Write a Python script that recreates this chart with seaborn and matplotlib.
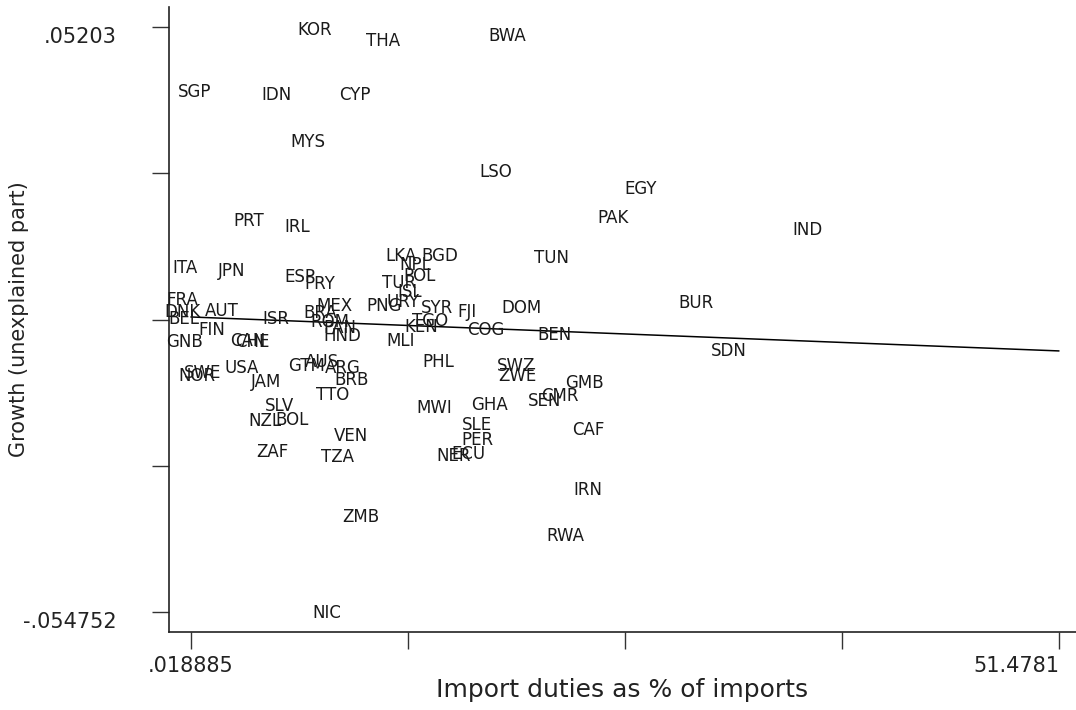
import matplotlib
matplotlib.use('Agg')
import matplotlib.pyplot as plt
import seaborn as sns
import pandas as pd
import numpy as np

sns.set_theme(style='white')
plt.rcParams['font.family'] = ['DejaVu Sans']

# country codes and values
countries = [
    'KOR', 'THA', 'BWA', 'SGP', 'IDN', 'CYP', 'MYS', 'LSO', 'EGY', 'PAK',
    'IND', 'PRT', 'IRL', 'LKA', 'BGD', 'TUN', 'NPL', 'ITA', 'JPN', 'ESP',
    'PRY', 'TUR', 'POL', 'ISL', 'URY', 'PNG', 'SYR', 'FJI', 'DOM', 'BUR',
    'FRA', 'DNK', 'AUT', 'BEL', 'ISR', 'MEX', 'BRA', 'ROM', 'PAN', 'HND',
    'KEN', 'TGO', 'COG', 'BEN', 'MLI', 'GNB', 'FIN', 'CHE', 'CAN', 'SDN',
    'PHL', 'SWZ', 'ZWE', 'GMB', 'SEN', 'CMR', 'AUS', 'GTM', 'ARG', 'BRB',
    'TTO', 'USA', 'NOR', 'SWE', 'JAM', 'SLV', 'NZL', 'BOL', 'VEN', 'ZAF',
    'TZA', 'MWI', 'GHA', 'SLE', 'PER', 'NER', 'ECU', 'CAF', 'IRN', 'ZMB',
    'RWA', 'NIC',
]
import_duties = [
    7.37, 11.40, 18.75, 0.26, 5.12, 9.74, 6.95, 18.10, 26.70, 25.04,
    36.60, 3.46, 6.30, 12.47, 14.78, 21.42, 13.30, -0.34, 2.45, 6.48,
    7.67, 12.35, 13.59, 13.00, 12.59, 11.46, 14.60, 16.38, 19.64, 29.96,
    -0.51, -0.45, 1.86, -0.40, 5.06, 8.50, 7.67, 8.26, 8.85, 8.97,
    13.65, 14.19, 17.51, 21.60, 12.47, -0.34, 1.26, 3.64, 3.40, 31.91,
    14.66, 19.29, 19.40, 23.32, 21.01, 21.89, 7.79, 6.90, 9.03, 9.56,
    8.44, 3.04, 0.37, 0.73, 4.46, 5.30, 4.41, 6.01, 9.50, 4.82,
    8.73, 14.42, 17.74, 16.97, 17.03, 15.61, 16.50, 23.55, 23.55, 10.10,
    22.19, 8.08,
]
growth_resid = [
    0.0515, 0.0495, 0.0504, 0.0402, 0.0396, 0.0396, 0.0310, 0.0256, 0.0225, 0.0172,
    0.0150, 0.0166, 0.0155, 0.0102, 0.0102, 0.0099, 0.0086, 0.0080, 0.0075, 0.0064,
    0.0051, 0.0053, 0.0066, 0.0037, 0.0018, 0.0011, 0.0007, 0.0000, 0.0007, 0.0017,
    0.0022, 0.0000, 0.0002, -0.0013, -0.0013, 0.0011, -0.0002, -0.0018, -0.0029, -0.0044,
    -0.0027, -0.0016, -0.0033, -0.0042, -0.0053, -0.0055, -0.0033, -0.0055, -0.0053, -0.0071,
    -0.0091, -0.0099, -0.0117, -0.0130, -0.0162, -0.0153, -0.0091, -0.0099, -0.0102, -0.0124,
    -0.0151, -0.0102, -0.0117, -0.0111, -0.0128, -0.0172, -0.0199, -0.0197, -0.0226, -0.0256,
    -0.0265, -0.0175, -0.0170, -0.0206, -0.0234, -0.0263, -0.0259, -0.0215, -0.0325, -0.0374,
    -0.0409, -0.0549,
]

# fitted line, end points
fit_x = [0.018885, 51.4781]
fit_y = [-0.0009, -0.0071]

x_min, x_max = 0.018885, 51.4781
y_min, y_max = -0.054752, 0.05203
x_tick_labels = ['.018885', '', '', '', '51.4781']
y_tick_labels = ['-.054752', '', '', '', '.05203']

df = pd.DataFrame({'code': countries, 'duties': import_duties, 'growth': growth_resid})

fig = plt.figure(figsize=(10.76, 7.10), dpi=100)
ax = fig.add_axes([0.157, 0.110, 0.843, 0.880])

sns.lineplot(x=fit_x, y=fit_y, ax=ax, color='black', linewidth=1.1)
for _, row in df.iterrows():
    ax.text(row['duties'], row['growth'], row['code'], ha='center', va='center',
            fontsize=12, color='#1a1a1a')

x_span = x_max - x_min
y_span = y_max - y_min
ax.set_xlim(x_min - 0.0253 * x_span, x_max + 0.0196 * x_span)
ax.set_ylim(y_min - 0.0342 * y_span, y_max + 0.0342 * y_span)

ax.set_xticks(np.linspace(x_min, x_max, 5))
ax.set_xticklabels(x_tick_labels, fontsize=15, color='#222222')
ax.get_xticklabels()[-1].set_ha('right')
ax.set_yticks(np.linspace(y_min, y_max, 5))
ax.set_yticklabels(y_tick_labels, fontsize=15, color='#222222', va='top')
ax.tick_params(axis='both', direction='out', length=12, width=1, color='#333333',
               bottom=True, left=True, pad=5)
ax.tick_params(axis='y', pad=26)

for side in ['top', 'right']:
    ax.spines[side].set_visible(False)
for side in ['left', 'bottom']:
    ax.spines[side].set_color('#222222')
    ax.spines[side].set_linewidth(1.2)

ax.set_xlabel('Import duties as % of imports', fontsize=18, color='#222222', labelpad=2)
ax.set_ylabel('Growth (unexplained part)', fontsize=15, color='#222222')
ax.yaxis.set_label_coords(-0.154, 0.5)
ax.grid(False)

fig.savefig('out.png', dpi=100)
